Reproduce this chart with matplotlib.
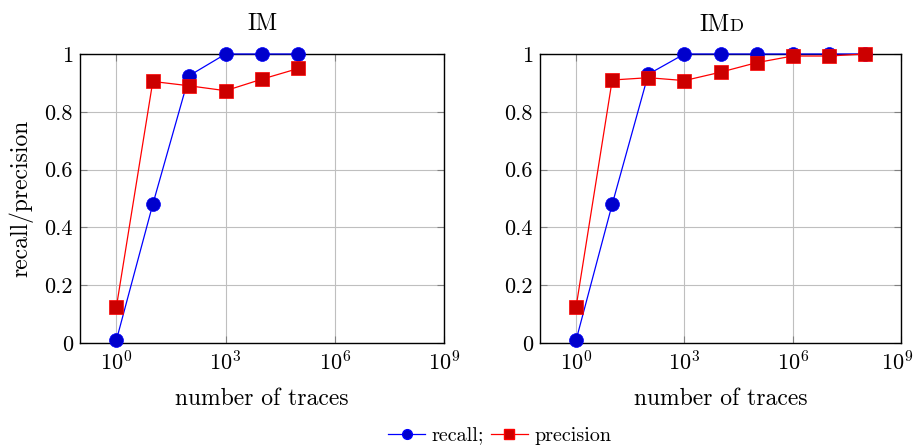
import matplotlib
matplotlib.use("Agg")
import matplotlib.pyplot as plt
from matplotlib.transforms import offset_copy, ScaledTranslation
from matplotlib.lines import Line2D

plt.rcParams['font.family'] = ['cmr10', 'DejaVu Serif']
plt.rcParams['mathtext.fontset'] = 'cm'
plt.rcParams['axes.formatter.use_mathtext'] = True
plt.rcParams['axes.unicode_minus'] = False

# data
traces_im = [1e0, 1e1, 1e2, 1e3, 1e4, 1e5]
recall_im = [0.01, 0.48, 0.925, 1.0, 1.0, 1.0]
precision_im = [0.125, 0.905, 0.89, 0.873, 0.913, 0.95]

traces_imd = [1e0, 1e1, 1e2, 1e3, 1e4, 1e5, 1e6, 1e7, 1e8]
recall_imd = [0.01, 0.48, 0.93, 1.0, 1.0, 1.0, 1.0, 1.0, 1.0]
precision_imd = [0.125, 0.91, 0.918, 0.908, 0.937, 0.97, 0.993, 0.993, 1.0]

xticks = [1e0, 1e3, 1e6, 1e9]
yticks = [0, 0.2, 0.4, 0.6, 0.8, 1.0]
ytick_labels = ['0', '0.2', '0.4', '0.6', '0.8', '1']

W, H = 915, 446
fig = plt.figure(figsize=(W / 100, H / 100), dpi=100)

def make_ax(left_px, right_px):
    top_px, bot_px = 54, 343
    return fig.add_axes([left_px / W, (H - bot_px) / H,
                         (right_px - left_px) / W, (bot_px - top_px) / H])

ax1 = make_ax(80, 444)
ax2 = make_ax(540, 901)

blue_line, blue_fill = '#0000FF', '#0000CC'
red_line, red_fill = '#FF0000', '#CC0000'
fs = 17
tfs = 16

for ax, x, r, p in [(ax1, traces_im, recall_im, precision_im),
                    (ax2, traces_imd, recall_imd, precision_imd)]:
    ax.set_xscale('log')
    ax.set_xlim(1e-1, 1e9)
    ax.set_ylim(0, 1)
    ax.plot(x, r, color=blue_line, lw=0.9, marker='o', ms=10,
            mfc=blue_fill, mec=blue_line, mew=0.5, clip_on=False, zorder=3)
    ax.plot(x, p, color=red_line, lw=0.9, marker='s', ms=9.5,
            mfc=red_fill, mec=red_line, mew=0.5, clip_on=False, zorder=4)
    ax.set_xticks(xticks)
    ax.xaxis.set_minor_locator(matplotlib.ticker.NullLocator())
    ax.set_yticks(yticks)
    ax.set_yticklabels(ytick_labels)
    ax.grid(True, color='#BFBFBF', lw=0.8)
    ax.set_axisbelow(True)
    ax.tick_params(direction='in', which='both', top=True, right=True,
                   length=5, color='#808080', labelsize=tfs, pad=5)
    for s in ax.spines.values():
        s.set_linewidth(1.0)
        s.set_color('black')
    ax.set_xlabel('number of traces', fontsize=fs, labelpad=10)

ax1.set_ylabel('recall/precision', fontsize=fs, labelpad=8)

# nudge the last x tick label of the right plot so it stays inside the figure
fig.canvas.draw()
lbl = ax2.get_xticklabels()[-1]
lbl.set_transform(lbl.get_transform() + ScaledTranslation(-4 / 100, 0, fig.dpi_scale_trans))

# titles (small caps D for IMd)
ax1.set_title('IM', fontsize=fs, pad=17)
tr = offset_copy(ax2.transAxes, fig=fig, x=9, y=23, units='dots')
ax2.text(0.5, 1.0, 'IM', transform=tr, ha='right', va='baseline', fontsize=fs)
ax2.text(0.5, 1.0, 'D', transform=tr, ha='left', va='baseline', fontsize=fs * 0.78)

handles = [Line2D([], [], color=blue_line, lw=0.9, marker='o', ms=7, mfc=blue_fill, mec=blue_line),
           Line2D([], [], color=red_line, lw=0.9, marker='s', ms=6.5, mfc=red_fill, mec=red_line)]
fig.legend(handles, ['recall;', 'precision'], loc='center', bbox_to_anchor=(0.546, 0.022),
           ncol=2, frameon=False, fontsize=14.5, handlelength=1.85, handletextpad=0.3,
           columnspacing=0.35, borderpad=0)

fig.savefig('out.png', dpi=100)
